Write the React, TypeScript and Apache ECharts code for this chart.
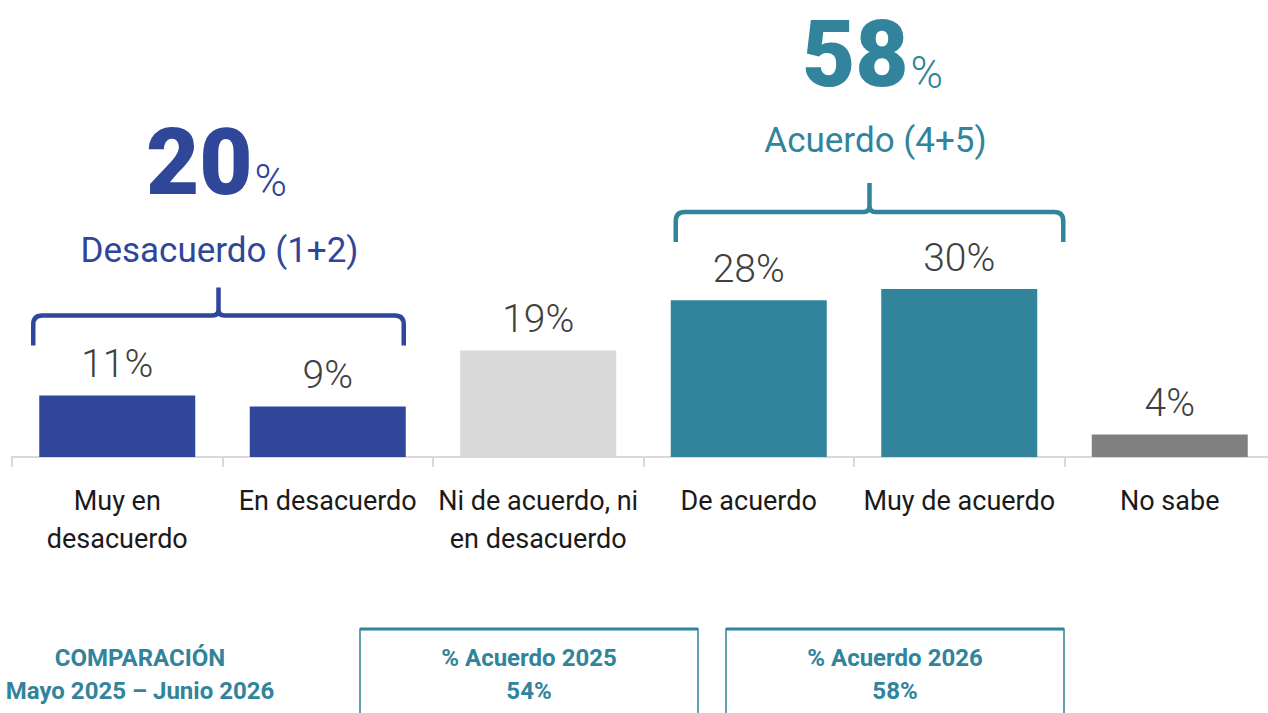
import React, { useEffect, useRef } from "react";
import * as echarts from "echarts";

const categories = [
  "Muy en\ndesacuerdo",
  "En desacuerdo",
  "Ni de acuerdo, ni\nen desacuerdo",
  "De acuerdo",
  "Muy de acuerdo",
  "No sabe",
];
const values = [11, 9, 19, 28, 30, 4];
const barColors = ["#2F4699", "#2F4699", "#D9D9D9", "#31849B", "#31849B", "#808080"];

const groupLabels = ["Desacuerdo (1+2)", "Acuerdo (4+5)"];
const groupValues = [20, 58];
const groupColors = ["#2F4699", "#31849B"];

const comparisonTitle = ["COMPARACIÓN", "Mayo 2025 – Junio 2026"];
const comparisonLabels = ["% Acuerdo 2025", "% Acuerdo 2026"];
const comparisonValues = [54, 58];

const FONT = "Roboto, 'Noto Sans', sans-serif";
const TEAL = "#31849B";

function bracketPath(x0: number, x1: number, yH: number, depth: number, peak: number) {
  const xm = (x0 + x1) / 2;
  const r = 9;
  const rm = 6;
  const yEnd = yH + depth;
  const yPeak = yH - peak;
  return (
    `M${x0},${yEnd} L${x0},${yH + r} Q${x0},${yH} ${x0 + r},${yH} ` +
    `L${xm - rm},${yH} Q${xm},${yH} ${xm},${yH - rm} L${xm},${yPeak} ` +
    `M${xm},${yH - rm} Q${xm},${yH} ${xm + rm},${yH} ` +
    `L${x1 - r},${yH} Q${x1},${yH} ${x1},${yH + r} L${x1},${yEnd}`
  );
}

export default function App() {
  const ref = useRef<HTMLDivElement>(null);

  useEffect(() => {
    if (!ref.current) return;
    const chart = echarts.init(ref.current, null, { renderer: "svg" });
    chart.setOption({
      animation: false,
      grid: { left: 12, top: 9, width: 1263, height: 448, outerBoundsMode: "none", containLabel: false },
      xAxis: {
        type: "category",
        data: categories,
        axisLine: { lineStyle: { color: "#D9D9D9", width: 2 } },
        axisTick: { show: true, length: 10, lineStyle: { color: "#D9D9D9", width: 2 } },
        axisLabel: {
          interval: 0,
          margin: 25,
          color: "#1a1a1a",
          fontSize: 27,
          lineHeight: 38,
          fontFamily: FONT,
        },
      },
      yAxis: { type: "value", min: 0, max: 80, show: false },
      series: [
        {
          type: "bar",
          barWidth: 156,
          data: values.map((v, i) => ({ value: v, itemStyle: { color: barColors[i] } })),
          label: {
            show: true,
            position: "top",
            distance: 12,
            formatter: "{c}%",
            fontSize: 39,
            fontWeight: 300,
            color: "#404040",
            fontFamily: FONT,
          },
        },
      ],
    });

    const px = (i: number) => chart.convertToPixel({ xAxisIndex: 0 }, i) as number;
    const py = (v: number) => chart.convertToPixel({ yAxisIndex: 0 }, v) as number;

    // brackets
    const lx0 = px(0) - 84;
    const lx1 = px(1) + 76;
    const lyH = py(values[0]) - 80;
    const rx0 = px(3) - 73;
    const rx1 = px(4) + 104;
    const ryH = py(values[4]) - 77;
    echarts.graphic.registerShape(
      "bracketL",
      echarts.graphic.extendPath(bracketPath(lx0, lx1, lyH, 30, 28), {})
    );
    echarts.graphic.registerShape(
      "bracketR",
      echarts.graphic.extendPath(bracketPath(rx0, rx1, ryH, 30, 29), {})
    );
    const lxm = (lx0 + lx1) / 2;
    const rxm = (rx0 + rx1) / 2;

    const groupText = (idx: number, xm: number, yBig: number, yLabel: number) => [
      {
        type: "text",
        x: xm,
        y: yBig,
        style: {
          text: `{n|${groupValues[idx]}}{p|%}`,
          align: "center",
          verticalAlign: "middle",
          rich: {
            n: { fontSize: 92, fontWeight: 900, fontFamily: FONT, fill: groupColors[idx], color: groupColors[idx], verticalAlign: "bottom", lineHeight: 92 },
            p: { fontSize: 44, fontWeight: 300, fontFamily: FONT, fill: groupColors[idx], color: groupColors[idx], verticalAlign: "bottom", lineHeight: 44, padding: [0, 0, 5, 2] },
          },
        },
      },
      {
        type: "text",
        x: xm + 3,
        y: yLabel,
        style: {
          text: groupLabels[idx],
          align: "center",
          verticalAlign: "middle",
          fontSize: 35,
          fontWeight: 400,
          fontFamily: FONT,
          fill: groupColors[idx],
        },
      },
    ];

    const boxes: any[] = [];
    const boxX = [360, 726];
    comparisonLabels.forEach((lab, i) => {
      boxes.push(
        {
          type: "rect",
          shape: { x: boxX[i], y: 629, width: 338, height: 100 },
          style: { fill: "none", stroke: TEAL, lineWidth: 1.5 },
        },
        {
          type: "line",
          shape: { x1: boxX[i], y1: 629, x2: boxX[i] + 338, y2: 629 },
          style: { stroke: TEAL, lineWidth: 3 },
        },
        {
          type: "text",
          x: boxX[i] + 169,
          y: 674,
          style: {
            text: `${lab}\n${comparisonValues[i]}%`,
            align: "center",
            verticalAlign: "middle",
            fontSize: 24,
            lineHeight: 33,
            fontWeight: 700,
            fontFamily: FONT,
            fill: TEAL,
          },
        }
      );
    });

    chart.setOption({
      graphic: [
        { type: "bracketL", style: { fill: "none", stroke: groupColors[0], lineWidth: 4.5 } },
        { type: "bracketR", style: { fill: "none", stroke: groupColors[1], lineWidth: 4.5 } },
        ...groupText(0, lxm - 2, 162, 250),
        ...groupText(1, rxm + 3, 54, 140),
        {
          type: "text",
          x: 140,
          y: 674,
          style: {
            text: comparisonTitle.join("\n"),
            align: "center",
            verticalAlign: "middle",
            fontSize: 24,
            lineHeight: 33,
            fontWeight: 700,
            fontFamily: FONT,
            fill: TEAL,
          },
        },
        ...boxes,
      ],
    });

    return () => chart.dispose();
  }, []);

  return (
    <div
      ref={ref}
      style={{ position: "fixed", left: 0, top: 0, width: 1268, height: 713, background: "#fff" }}
    />
  );
}
